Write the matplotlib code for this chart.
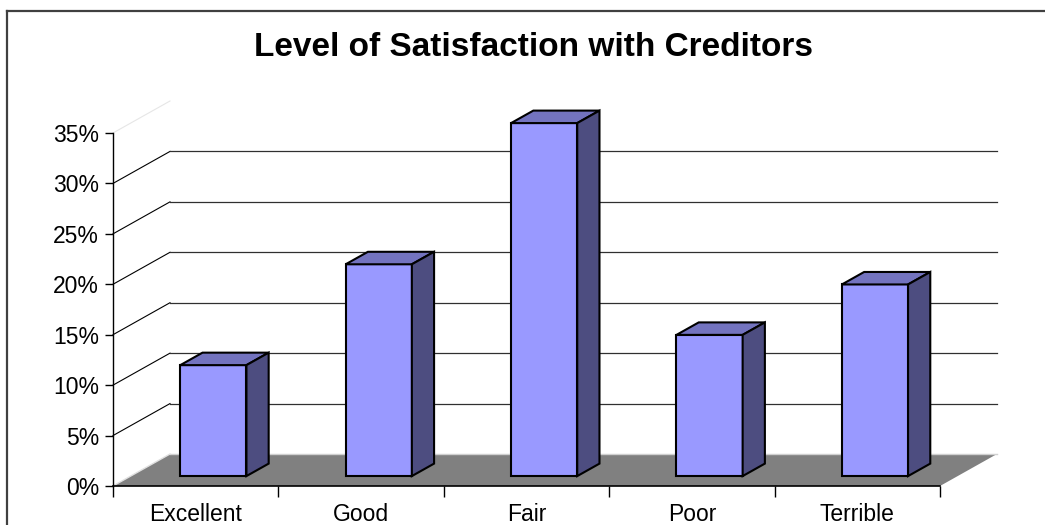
import numpy as np
import matplotlib
matplotlib.use("Agg")
import matplotlib.pyplot as plt
from matplotlib.patches import Polygon
from matplotlib.lines import Line2D
from matplotlib.transforms import IdentityTransform

plt.rcParams['font.family'] = ['Liberation Sans', 'DejaVu Sans']

categories = ['Excellent', 'Good', 'Fair', 'Poor', 'Terrible']
shares = [0.11, 0.21, 0.35, 0.14, 0.19]
y_ticks = [0, 0.05, 0.10, 0.15, 0.20, 0.25, 0.30, 0.35]

# oblique depth of the 3d box, in pixels (right, up)
DX, DY = 57, 32
BAR_FRONT, BAR_BACK = 0.31, 0.70   # depth fraction of the columns
BAR_W = 0.4

C_FRONT = '#9999FF'
C_TOP = '#7373BF'
C_SIDE = '#4D4D80'
C_FLOOR = '#808080'

fig = plt.figure(figsize=(10.45, 5.25), dpi=100)
ax = fig.add_axes([113 / 1045, 39 / 525, 827 / 1045, 353 / 525])
ax.set_xlim(0, len(categories))
ax.set_ylim(0, 0.35)
ax.patch.set_visible(False)
for s in ['top', 'right']:
    ax.spines[s].set_visible(False)
ax.spines['left'].set_color('black')
ax.spines['bottom'].set_color('black')
ax.spines['left'].set_linewidth(1)
ax.spines['bottom'].set_linewidth(1.2)


def proj(x, y, d):
    px, py = ax.transData.transform((x, y))
    return (px + DX * d, py + DY * d)


def face(pts, color, z, ec='black', lw=1.5):
    ax.add_patch(Polygon([proj(*p) for p in pts], closed=True, facecolor=color,
                         edgecolor=ec, linewidth=lw, transform=IdentityTransform(),
                         clip_on=False, zorder=z))


def line(p1, p2, color, lw, z):
    a, b = proj(*p1), proj(*p2)
    ax.add_line(Line2D([a[0], b[0]], [a[1], b[1]], color=color, linewidth=lw,
                       transform=IdentityTransform(), clip_on=False, zorder=z))


n = len(categories)

# floor
face([(0, 0, 0), (n, 0, 0), (n, 0, 1), (0, 0, 1)], C_FLOOR, 1, ec='none', lw=0)
line((0, 0, 1), (n, 0, 1), '#D0D0D0', 1, 1.1)
line((0, 0, 0), (0, 0, 1), '#E0E0E0', 1, 1.1)

# walls: side-wall diagonals and back-wall gridlines
for t in y_ticks[1:]:
    if t < 0.349:
        line((0, t, 0), (0, t, 1), '#000000', 0.8, 1.5)
        line((0, t, 1), (n, t, 1), '#303030', 0.9, 1.5)
    else:
        line((0, t, 0), (0, t, 1), '#E6E6E6', 0.8, 1.5)

# columns
for i, v in enumerate(shares):
    x0 = i + (1 - BAR_W) / 2
    x1 = x0 + BAR_W
    d0, d1 = BAR_FRONT, BAR_BACK
    face([(x0, 0, d0), (x1, 0, d0), (x1, v, d0), (x0, v, d0)], C_FRONT, 3)
    face([(x0, v, d0), (x1, v, d0), (x1, v, d1), (x0, v, d1)], C_TOP, 3)
    face([(x1, 0, d0), (x1, 0, d1), (x1, v, d1), (x1, v, d0)], C_SIDE, 3)

ax.set_yticks(y_ticks)
ax.set_yticklabels([f"{round(t * 100)}%" for t in y_ticks])
ax.tick_params(axis='y', direction='out', length=6, width=1, pad=4, labelsize=16.5)

ax.set_xticks(range(n + 1))
ax.set_xticklabels([])
ax.tick_params(axis='x', which='major', direction='out', length=8, width=1)
ax.set_xticks(np.arange(n) + 0.5, minor=True)
ax.set_xticklabels(categories, minor=True)
ax.tick_params(axis='x', which='minor', length=0, pad=12, labelsize=16.5)

fig.text(534 / 1045, 1 - 48 / 525, 'Level of Satisfaction with Creditors',
         ha='center', va='center', fontsize=24, fontweight='bold')

# chart border (runs off the right and bottom edges)
fig.add_artist(Line2D([7 / 1045, 1], [1 - 11 / 525, 1 - 11 / 525],
                      transform=fig.transFigure, color='#404040', linewidth=1.6))
fig.add_artist(Line2D([7 / 1045, 7 / 1045], [0, 1 - 11 / 525],
                      transform=fig.transFigure, color='#404040', linewidth=1.6))

fig.savefig('out.png', dpi=100)
